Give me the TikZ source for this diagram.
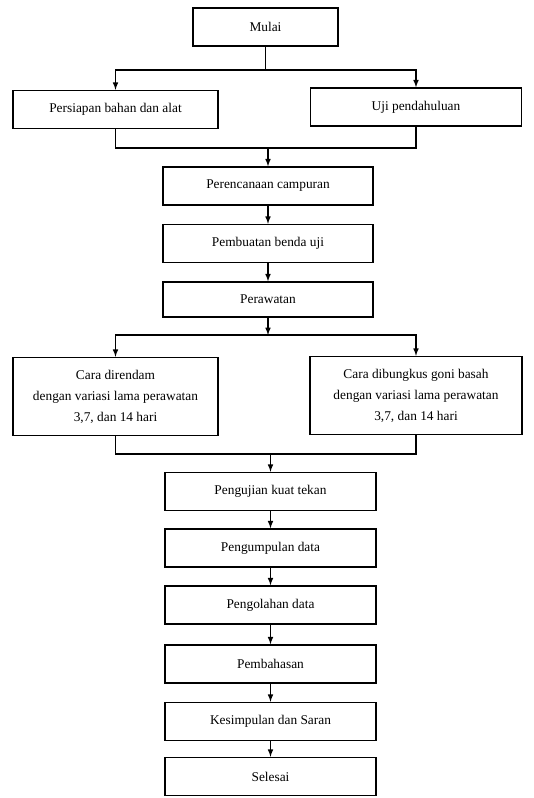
\documentclass[tikz,border=0pt]{standalone}
\usepackage{fontspec}
\setmainfont{Liberation Serif}
\usepackage{tikz}
\usetikzlibrary{calc,arrows,shapes,positioning}

\tikzset{
	kotak/.style={draw, line width=1pt, minimum width=5.25cm, minimum height=0.95cm, align=center, inner sep=2pt, font=\fontsize{9.5}{15}\selectfont},
	kotakbesar/.style={kotak, minimum height=1.95cm},
	garis/.style={line width=0.8pt},
	panah/.style={garis, ->, >=latex}
}

\begin{document}
\begin{tikzpicture}[x=0.025cm, y=-0.025cm]
					
					\useasboundingbox (0,0) rectangle (534,798);
					
					% awal
					\node[kotak, minimum width=3.625cm] (mulai) at (265.5,27) {Mulai};
					\node[kotak, minimum width=5.125cm] (persiapan) at (115.5,109.5) {Persiapan bahan dan alat};
					\node[kotak, minimum width=5.275cm] (uji) at (416,107) {Uji pendahuluan};
					
					\node[kotak] (rencana) at (268,186) {Perencanaan campuran};
					\node[kotak] (benda) at (268,243.5) {Pembuatan benda uji};
					\node[kotak, minimum height=0.875cm] (rawat) at (268,299.5) {Perawatan};
					
					\node[kotakbesar, minimum width=5.125cm] (rendam) at (115.5,396.5) {Cara direndam\\dengan variasi lama perawatan\\3,7, dan 14 hari};
					\node[kotakbesar, minimum width=5.3cm] (bungkus) at (416,395.5) {Cara dibungkus goni basah\\dengan variasi lama perawatan\\3,7, dan 14 hari};
					
					\node[kotak, minimum width=5.275cm] (tekan) at (270.5,491.5) {Pengujian kuat tekan};
					\node[kotak, minimum width=5.275cm] (kumpul) at (270.5,548) {Pengumpulan data};
					\node[kotak, minimum width=5.275cm] (olah) at (270.5,605) {Pengolahan data};
					\node[kotak, minimum width=5.275cm] (bahas) at (270.5,664) {Pembahasan};
					\node[kotak, minimum width=5.275cm] (simpul) at (270.5,721.5) {Kesimpulan dan Saran};
					\node[kotak, minimum width=5.275cm] (selesai) at (270.5,776.5) {Selesai};
					
					% titik cabang
					\coordinate (c1) at (265.5,70);
					\coordinate (c2) at (268,148);
					\coordinate (c3) at (268,335);
					\coordinate (c4) at (270.5,454);
					
					\draw[garis] (mulai) -- (c1);
					\draw[panah] (c1) -| (persiapan);
					\draw[panah] (c1) -| (uji);
					
					\draw[garis] (persiapan) |- (c2);
					\draw[garis] (uji) |- (c2);
					\draw[panah] (c2) -- (rencana);
					
					\draw[panah] (rencana) -- (benda);
					\draw[panah] (benda) -- (rawat);
					
					\draw[panah] (rawat) -- (c3);
					\draw[panah] (c3) -| (rendam);
					\draw[panah] (c3) -| (bungkus);
					
					\draw[garis] (rendam) |- (c4);
					\draw[garis] (bungkus) |- (c4);
					\draw[panah] (c4) -- (tekan);
					
					\draw[panah] (tekan) -- (kumpul);
					\draw[panah] (kumpul) -- (olah);
					\draw[panah] (olah) -- (bahas);
					\draw[panah] (bahas) -- (simpul);
					\draw[panah] (simpul) -- (selesai);
					
			\end{tikzpicture}
\end{document}
